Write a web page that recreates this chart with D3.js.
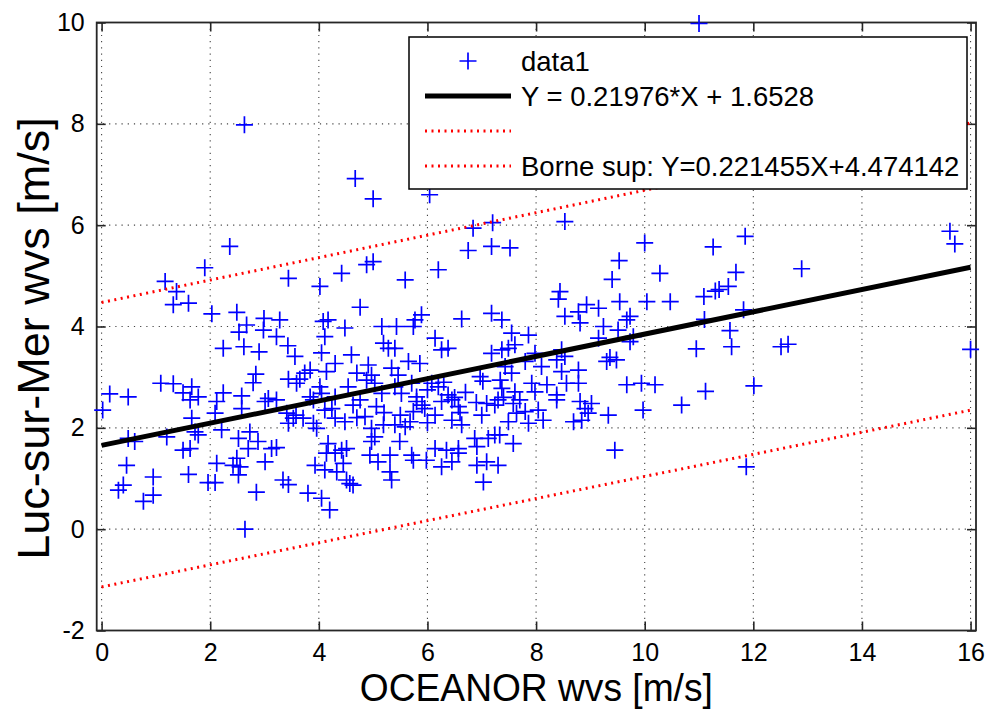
<!DOCTYPE html>
<html>
<head>
<meta charset="utf-8">
<script src="https://cdn.jsdelivr.net/npm/d3@7"></script>
<style>
  body { margin: 0; background: #fff; }
  svg { display: block; font-family: "Liberation Sans", Arial, sans-serif; }
</style>
</head>
<body>
<div id="chart"></div>
<script>
// scatter values (OCEANOR wvs, Luc-sur-Mer wvs), same order in both arrays
const oceanorWvs = [
  11.00, 2.63, 4.67, 5.00, 6.04, 8.53, 7.20, 6.84, 7.18, 7.52, 6.75, 10.00, 9.53, 10.28, 9.40,
  11.85, 11.26, 12.89, 11.68, 11.54, 11.30, 11.37, 11.09, 11.82, 11.10, 11.57, 11.60, 10.95, 12.51, 12.64,
  11.12, 12.01, 15.62, 15.71, 16.00, 11.87, 10.68, 9.97, 9.33, 9.45,
  2.36, 1.90, 1.17, 1.38, 1.32, 1.60, 2.03, 3.44, 2.49, 2.67, 2.99, 3.28, 2.53, 2.98, 3.22, 2.24, 2.62,
  2.90, 3.43, 3.56, 2.84, 2.79, 3.44, 3.59, 1.09, 1.32, 1.66, 1.50, 1.78, 0.15, 0.49, 2.24, 2.58, 3.07,
  0.02, 1.63, 2.12, 3.01, 3.22, 2.58, 2.09, 1.66, 3.41, 3.53, 3.44, 3.58, 0.49, 0.61, 1.20, 1.72, 1.78,
  2.21, 1.50, 1.63, 2.52, 2.73, 2.88, 2.70, 3.13, 3.22, 2.49, 2.55, 2.42, 2.12, 3.01, 2.52, 0.46, 0.95,
  1.60, 1.96, 2.09, 0.40, 0.31, 0.95, 0.77, 2.85, 3.34, 3.44, 2.64,
  5.00, 4.88, 4.42, 4.02, 5.59, 6.20, 7.18, 7.37, 4.76, 4.17, 4.08, 4.48, 5.16, 5.43, 5.77, 5.89, 5.74,
  6.63, 4.11, 6.14, 5.19, 5.28, 5.40, 4.60, 4.05, 6.26, 6.38, 5.65, 5.86, 4.91, 4.30, 3.84, 3.74, 3.65,
  4.14, 4.70, 4.97, 5.34, 5.46, 5.71, 6.08, 6.20, 6.97, 7.02, 7.18, 4.02, 4.05, 4.54, 5.03, 5.16, 5.40,
  5.52, 3.84, 5.80, 6.38, 6.50, 4.88, 4.30,
  8.44, 8.41, 9.54, 10.04, 10.47, 8.93, 9.15, 8.78, 8.53, 9.73, 9.67, 8.81, 9.24, 9.51, 7.55, 7.86, 9.79,
  9.15, 9.73, 7.37, 7.49, 7.61, 8.47, 8.53, 7.98, 8.38, 9.36, 9.48, 9.30, 8.78, 8.47, 8.10, 7.80, 7.43,
  7.55, 7.34, 7.92, 8.20, 8.56, 8.78, 9.67, 9.94, 10.19, 7.98, 8.38, 7.61, 7.37,
  3.90, 4.11, 4.24, 3.71, 3.90, 3.96, 4.30, 4.48, 4.63, 4.76, 5.06, 4.85, 4.97, 5.03, 5.19, 5.40, 5.59,
  5.68, 5.74, 5.80, 5.95, 6.14, 6.26, 6.45, 6.57, 6.63, 6.45, 7.00, 7.09, 7.24, 7.12, 7.24, 6.91, 6.57,
  6.35, 6.14, 5.49, 4.97, 4.17, 4.14, 4.30, 4.42, 4.51, 4.94, 5.31, 5.71, 5.74, 5.98, 5.09, 3.93, 4.45,
  4.11, 4.33, 5.31, 5.34, 4.51, 4.57, 4.63, 6.26, 6.45, 6.91, 7.09, 7.03, 6.57, 3.80, 4.05, 4.20, 6.87,
  9.02, 8.90, 8.81, 8.84, 8.69, 8.96, 8.38, 8.04, 8.13, 7.80, 7.64, 7.58, 7.49, 7.86, 7.33, 7.58, 7.30, 7.30,
  6.00, 6.30, 6.70, 6.90, 5.90, 6.60, 7.40, 7.70, 6.00, 5.20, 5.50, 4.70
];
const lucWvs = [
  9.98, 7.98, 6.92, 6.52, 6.60, 6.07, 6.05, 5.94, 5.58, 5.55, 5.50, 5.65, 5.30, 5.05, 4.93,
  5.78, 5.57, 5.14, 5.07, 4.79, 4.70, 4.73, 4.59, 4.33, 4.14, 3.92, 3.60, 3.56, 3.60, 3.65,
  2.72, 2.83, 5.88, 5.63, 3.55, 1.23, 2.45, 2.35, 2.25, 1.56,
  5.58, 5.16, 4.89, 4.69, 4.43, 4.46, 4.25, 4.95, 4.28, 4.03, 4.16, 4.13, 3.89, 3.93, 3.80, 3.57, 3.60,
  3.50, 3.62, 3.41, 3.06, 2.89, 2.96, 2.88, 2.88, 2.87, 2.81, 2.69, 2.61, 2.67, 2.61, 2.69, 2.63, 2.58,
  2.35, 2.55, 2.52, 2.52, 2.55, 2.38, 2.29, 2.19, 2.29, 2.19, 2.09, 2.25, 1.79, 1.73, 1.82, 1.92, 1.86,
  1.96, 1.56, 1.59, 1.79, 1.92, 1.73, 1.59, 1.59, 1.61, 1.40, 1.23, 1.26, 1.30, 1.33, 1.07, 1.26, 1.03,
  1.08, 0.92, 0.92, 0.87, 0.77, 0.67, 0.55, 0.73, 0.97, 0.88, 0.00,
  5.28, 5.22, 5.05, 4.79, 4.92, 5.12, 4.26, 4.13, 4.38, 4.13, 4.10, 3.97, 4.00, 4.00, 4.13, 4.23, 4.00,
  4.15, 3.80, 3.77, 3.67, 3.57, 3.57, 3.44, 3.48, 3.54, 3.57, 3.31, 3.27, 3.24, 3.27, 3.14, 3.08, 2.96,
  3.11, 3.08, 3.04, 3.18, 3.04, 2.88, 2.88, 2.81, 3.01, 2.92, 3.47, 2.81, 2.68, 2.81, 2.88, 2.68, 2.81,
  2.68, 2.61, 2.61, 2.65, 2.60, 2.94, 2.61,
  4.69, 4.54, 4.49, 4.49, 4.49, 4.43, 4.36, 4.29, 4.20, 4.20, 4.13, 4.07, 4.00, 3.93, 3.87, 3.83, 3.80,
  3.77, 3.70, 3.54, 3.57, 3.64, 3.54, 3.41, 3.47, 3.34, 3.39, 3.34, 3.31, 3.14, 3.11, 3.21, 3.31, 3.21,
  3.08, 2.94, 2.88, 2.85, 2.88, 2.88, 2.85, 2.88, 2.85, 2.71, 2.65, 2.71, 2.78,
  2.55, 2.35, 2.38, 2.19, 2.09, 1.99, 2.19, 2.12, 2.45, 2.55, 2.42, 2.22, 1.99, 1.82, 2.06, 2.06, 2.02,
  2.12, 2.32, 2.52, 2.38, 2.25, 2.52, 2.55, 2.42, 2.06, 2.15, 2.25, 2.48, 2.45, 1.79, 1.86, 1.63, 1.59,
  1.56, 1.59, 1.73, 1.73, 1.69, 1.50, 1.50, 1.56, 1.59, 1.46, 1.46, 1.46, 1.36, 1.36, 1.33, 1.26, 1.30,
  1.17, 1.13, 1.13, 0.97, 0.97, 0.90, 0.87, 1.23, 1.33, 1.26, 1.33, 0.93, 1.50, 0.71, 0.61, 0.38, 1.79,
  2.48, 2.38, 2.52, 2.15, 2.12, 2.29, 2.55, 2.35, 2.15, 2.32, 2.29, 2.48, 2.12, 2.09, 1.86, 1.69, 1.26, 2.55,
  2.75, 2.90, 2.70, 2.50, 2.45, 2.30, 2.60, 2.55, 2.10, 2.30, 2.25, 2.20
];

const xTicks = [0, 2, 4, 6, 8, 10, 12, 14, 16];
const yTicks = [-2, 0, 2, 4, 6, 8, 10];

// fitted line, lower bound (no legend text), upper bound
const fitLabels = ["Y = 0.21976*X + 1.6528", "", "Borne sup: Y=0.221455X+4.474142"];
const fitSlopes = [0.21976, 0.218065, 0.221455];
const fitIntercepts = [1.6528, -1.14, 4.474142];
const fitRange = [0, 16];

const width = 988, height = 710;
const svg = d3.select("#chart").append("svg")
  .attr("width", width)
  .attr("height", height)
  .style("background", "#fff");

const x = d3.scaleLinear().domain([-0.09, 16.1]).range([96.7, 976]);
const y = d3.scaleLinear().domain([-2, 10]).range([630.5, 22.5]);
const plotL = x.range()[0], plotR = x.range()[1], plotT = y.range()[1], plotB = y.range()[0];

const axisColor = "#262626";

// dotted grid
const grid = svg.append("g").attr("stroke", "#444").attr("stroke-width", 1.1).attr("stroke-dasharray", "1.2,5");
grid.selectAll(".gx").data(xTicks).enter().append("line")
  .attr("x1", d => x(d)).attr("x2", d => x(d)).attr("y1", plotT).attr("y2", plotB);
grid.selectAll(".gy").data(yTicks).enter().append("line")
  .attr("x1", plotL).attr("x2", plotR).attr("y1", d => y(d)).attr("y2", d => y(d));

// axes, ticks pointing inward
const tickLen = 9;
const tickFont = 25;
const styleAxis = g => {
  g.select(".domain").remove();
  g.selectAll(".tick line").attr("stroke", axisColor).attr("stroke-width", 1.6);
  g.selectAll(".tick text").attr("fill", "#000").attr("font-size", tickFont);
};
svg.append("g").attr("transform", `translate(0,${plotB})`)
  .call(d3.axisBottom(x).tickValues(xTicks).tickSize(-tickLen).tickPadding(13).tickFormat(d => String(d)))
  .call(styleAxis);
svg.append("g").attr("transform", `translate(0,${plotT})`)
  .call(d3.axisTop(x).tickValues(xTicks).tickSize(-tickLen).tickFormat(""))
  .call(styleAxis);
svg.append("g").attr("transform", `translate(${plotL},0)`)
  .call(d3.axisLeft(y).tickValues(yTicks).tickSize(-tickLen).tickPadding(12).tickFormat(d => String(d)))
  .call(styleAxis);
svg.append("g").attr("transform", `translate(${plotR},0)`)
  .call(d3.axisRight(y).tickValues(yTicks).tickSize(-tickLen).tickFormat(""))
  .call(styleAxis);

svg.append("rect")
  .attr("x", plotL).attr("y", plotT)
  .attr("width", plotR - plotL).attr("height", plotB - plotT)
  .attr("fill", "none").attr("stroke", axisColor).attr("stroke-width", 1.8);

// scatter "+" markers
const arm = 8.5;
const pts = oceanorWvs.map((v, i) => ({x: v, y: lucWvs[i]}));
svg.append("g").attr("stroke", "#0000ff").attr("stroke-width", 1.7).attr("fill", "none")
  .selectAll("path").data(pts).enter().append("path")
  .attr("d", d => {
    const cx = x(d.x), cy = y(d.y);
    return `M${cx - arm},${cy}H${cx + arm}M${cx},${cy - arm}V${cy + arm}`;
  });

// regression and bounds
const line = d3.line().x(d => x(d[0])).y(d => y(d[1]));
const fitData = fitSlopes.map((s, i) => fitRange.map(v => [v, s * v + fitIntercepts[i]]));
const fitStyles = [
  {stroke: "#000", width: 5, dash: null},
  {stroke: "#ff0000", width: 3, dash: "2,4.5"},
  {stroke: "#ff0000", width: 3, dash: "2,4.5"}
];
svg.append("g").selectAll("path").data(fitData).enter().append("path")
  .attr("d", line)
  .attr("fill", "none")
  .attr("stroke", (d, i) => fitStyles[i].stroke)
  .attr("stroke-width", (d, i) => fitStyles[i].width)
  .attr("stroke-dasharray", (d, i) => fitStyles[i].dash);

// legend
const lg = svg.append("g");
lg.append("rect")
  .attr("x", 409).attr("y", 37).attr("width", 558).attr("height", 152)
  .attr("fill", "#fff").attr("stroke", "#000").attr("stroke-width", 1.5);
const rowY = [61, 96, 131, 166];
const sx1 = 425, sx2 = 511, tx = 521;
const lgFont = 27.5;
const mx = (sx1 + sx2) / 2;
lg.append("path")
  .attr("d", `M${mx - arm},${rowY[0]}H${mx + arm}M${mx},${rowY[0] - arm}V${rowY[0] + arm}`)
  .attr("stroke", "#0000ff").attr("stroke-width", 1.7);
lg.append("text").attr("x", tx).attr("y", rowY[0]).attr("dy", "0.35em")
  .attr("font-size", lgFont).text("data1");
fitLabels.forEach((lab, i) => {
  const yy = rowY[i + 1];
  lg.append("line").attr("x1", sx1).attr("x2", sx2).attr("y1", yy).attr("y2", yy)
    .attr("stroke", fitStyles[i].stroke).attr("stroke-width", fitStyles[i].width)
    .attr("stroke-dasharray", fitStyles[i].dash);
  lg.append("text").attr("x", tx).attr("y", yy).attr("dy", "0.35em")
    .attr("font-size", lgFont).text(lab);
});

// axis titles
svg.append("text")
  .attr("x", (plotL + plotR) / 2).attr("y", 701)
  .attr("text-anchor", "middle").attr("font-size", 38)
  .attr("textLength", 353).attr("lengthAdjust", "spacingAndGlyphs")
  .text("OCEANOR wvs [m/s]");
svg.append("text")
  .attr("transform", `translate(49,${(plotT + plotB) / 2 + 12}) rotate(-90)`)
  .attr("text-anchor", "middle").attr("font-size", 45)
  .text("Luc-sur-Mer wvs [m/s]");
</script>
</body>
</html>
